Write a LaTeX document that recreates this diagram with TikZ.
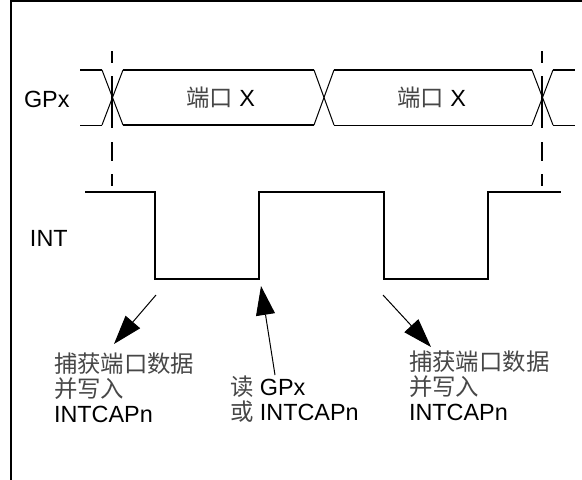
\documentclass[tikz,border=0pt]{standalone}
\usepackage{fontspec}
\setmainfont{Liberation Sans}
\newfontfamily\cjkfam{Noto Sans CJK SC}
\newcommand{\zh}[1]{{\cjkfam\color{black!72}#1}}
\usetikzlibrary{arrows.meta}
\lineskiplimit=-100pt
\tikzset{
  wave/.style={line width=1.7pt,line join=miter},
  thinwave/.style={line width=1pt},
  guide/.style={line width=1.7pt,dash pattern=on 12pt off 13pt on 52pt off 14pt on 19pt off 13pt on 12pt},
  pointer/.style={line width=1pt,-{Triangle[length=29pt,width=19pt]}},
  lbl/.style={inner sep=0pt,outer sep=0pt,anchor=base west,font=\fontsize{23.4pt}{25pt}\selectfont,align=left},
}
\begin{document}
\begin{tikzpicture}[x=1pt,y=-1pt]
\useasboundingbox (0,0) rectangle (582,480);
% frame
\draw[line width=2pt] (11,480) -- (11,1) -- (582,1);
% GPx waveform
\draw[wave] (80,70) -- (102,70);
\draw[wave] (123,70) -- (314,70);
\draw[wave] (334,70) -- (532,70);
\draw[wave] (553,70) -- (575,70);
\draw[thinwave] (80,125) -- (102,125);
\draw[wave] (123,125) -- (314,125);
\draw[thinwave] (334,125) -- (532,125);
\draw[thinwave] (553,125) -- (575,125);
\foreach \a/\b in {102/123,314/334,532/553}{
  \draw[thinwave] (\a,70) -- (\b,125);
  \draw[thinwave] (\a,125) -- (\b,70);
}
% guides
\draw[guide] (112,51) -- (112,186);
\draw[guide] (542,51) -- (542,186);
% INT waveform
\draw[wave] (85,192) -- (155,192) -- (155,279) -- (259,279) -- (259,192) -- (384,192) -- (384,279) -- (488,279) -- (488,192) -- (561,192);
% labels
\node[lbl] (gpx) at (24,107) {GPx};
\node[lbl] (int) at (30,246) {INT};
\node[lbl] (p1) at (186,106) {\zh{端口} X};
\node[lbl] (p2) at (397,106) {\zh{端口} X};
\node[lbl,anchor=south west] (c1) at (54,423) {\zh{捕获端口数据}\\\zh{并写入}\\INTCAPn};
\node[lbl,anchor=south west] (r) at (230,422) {\zh{读} GPx\\\zh{或} INTCAPn};
\node[lbl,anchor=south west] (c2) at (409,421) {\zh{捕获端口数据}\\\zh{并写入}\\INTCAPn};
% arrows
\coordinate (a1s) at (156,295); \coordinate (a1e) at (114,344);
\coordinate (a2s) at (275,375); \coordinate (a2e) at (261,286);
\coordinate (a3s) at (383,295); \coordinate (a3e) at (431,347);
\draw[pointer] (a1s) -- (a1e);
\draw[pointer] (a2s) -- (a2e);
\draw[pointer] (a3s) -- (a3e);
\end{tikzpicture}
\end{document}
